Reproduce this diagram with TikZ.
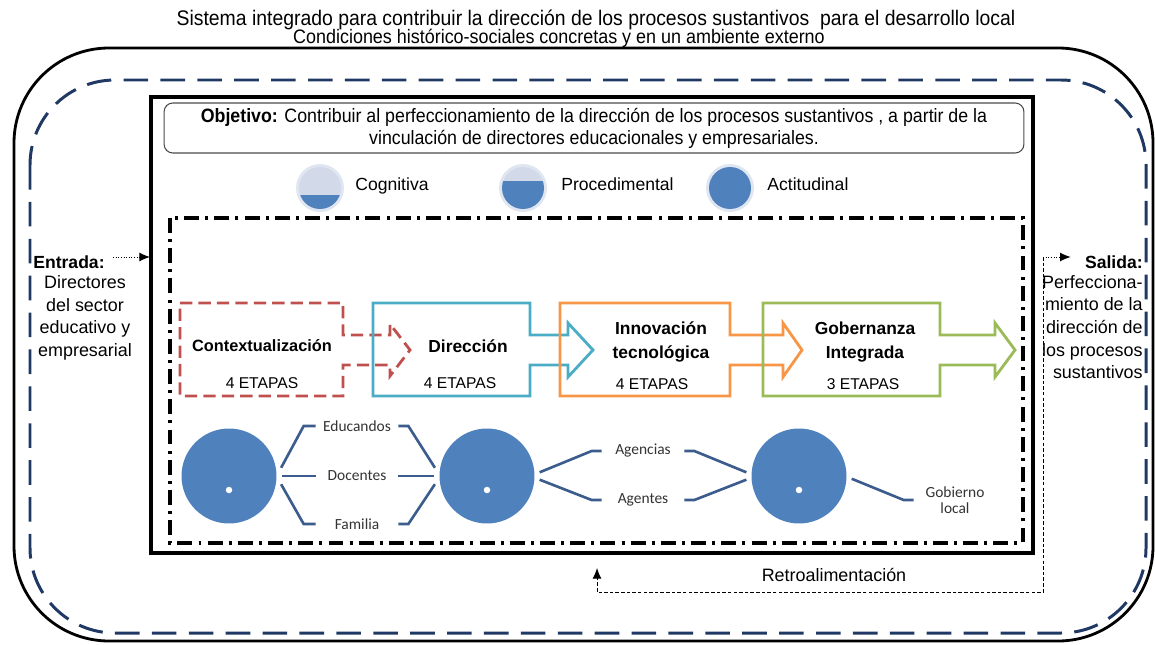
\documentclass[tikz,border=0pt]{standalone}
\usepackage{fontspec}
\setmainfont{Liberation Sans}
\newfontfamily\narrowfont[FakeStretch=0.92]{Liberation Sans}
\newfontfamily\calfont{Carlito}
\usetikzlibrary{arrows,arrows.meta,shapes,calc,positioning}

\definecolor{navy}{RGB}{31,56,100}
\definecolor{ballblue}{RGB}{79,129,189}
\definecolor{linkblue}{RGB}{59,92,140}
\definecolor{palefill}{RGB}{210,218,234}
\definecolor{halo}{RGB}{224,230,241}
\definecolor{ctxred}{RGB}{192,80,77}
\definecolor{dirblue}{RGB}{75,172,198}
\definecolor{innorange}{RGB}{247,150,70}
\definecolor{gobgreen}{RGB}{155,187,89}

\begin{document}
\begin{tikzpicture}[x=0.02cm, y=-0.02cm,
every node/.style={inner sep=0pt},
frame/.style={line width=1.6pt},
envdash/.style={draw=navy, line width=1.7pt, dash pattern=on 14pt off 7pt},
sysbox/.style={line width=2.2pt},
dashdot/.style={line width=2pt, dash pattern=on 8.5pt off 3.5pt on 1.7pt off 3.5pt},
stage/.style={line width=1.6pt, line join=miter},
stagename/.style={font=\bfseries\fontsize{9.9}{13.6}\selectfont, align=center},
etapas/.style={font=\fontsize{8.9}{10}\selectfont, anchor=base},
ball/.style={circle, fill=ballblue, minimum size=1.9cm, outer sep=3pt},
hole/.style={circle, fill=white, minimum size=0.13cm},
actor/.style={font=\calfont\fontsize{8.8}{8.8}\selectfont, align=center, minimum width=1.64cm, text=black!80},
link/.style={draw=linkblue, line width=1.5pt},
txt/.style={font=\fontsize{10.2}{12.9}\selectfont},
legend/.style={font=\fontsize{10}{12}\selectfont, anchor=base west},
flow/.style={-{Latex[length=6pt,width=5pt]}, line width=0.5pt, densely dotted},
fback/.style={-{Latex[length=6pt,width=5pt]}, line width=0.5pt, dash pattern=on 2pt off 1.2pt},
]
\useasboundingbox (0,0) rectangle (1155,645);

% titles
\node[font=\narrowfont\fontsize{12}{14}\selectfont, anchor=base] (title) at (596,25.5) {Sistema integrado para contribuir la dirección de los procesos sustantivos\ \ para el desarrollo local};
\node[font=\narrowfont\fontsize{11.1}{13}\selectfont, anchor=base] (subtitle) at (559,44) {Condiciones histórico-sociales concretas y en un ambiente externo};

% frames
\draw[frame, rounded corners=1.9cm] (14,48) rectangle (1153,641);
\draw[envdash, rounded corners=1.7cm] (30,80) rectangle (1146,633);
\draw[sysbox] (151,97) rectangle (1033,553);
\draw[dashdot] (170,218) rectangle (1023,543);

\node[draw=black!70, rounded corners=5pt, line width=0.6pt, minimum width=17.2cm, minimum height=1cm, align=center, font=\narrowfont\fontsize{11}{12.5}\selectfont] (obj) at (594,128) {\textbf{Objetivo:} Contribuir al perfeccionamiento de la dirección de los procesos sustantivos , a partir de la\\vinculación de directores educacionales y empresariales.};

% legend
\foreach \cx/\lev in {320/195, 523/181, 730/150} {
  \fill[halo] (\cx,188) circle [radius=0.48cm];
  \begin{scope}
    \clip (\cx,188) circle [radius=0.42cm];
    \fill[palefill] (\cx-25,160) rectangle (\cx+25,215);
    \fill[ballblue] (\cx-25,\lev) rectangle (\cx+25,215);
  \end{scope}
}
\node[legend] (cog) at (355,191) {Cognitiva};
\node[legend] (proc) at (561,191) {Procedimental};
\node[legend] (act) at (767,191) {Actitudinal};

% stages
\draw[stage, draw=ctxred, dash pattern=on 7pt off 3.5pt] (180,303) -- (343,303) -- (343,335) -- (390,335) -- (390,324) -- (410,350) -- (390,376) -- (390,365) -- (343,365) -- (343,396) -- (180,396) -- cycle;
\foreach \l/\r/\hb/\tip/\col in {373/530/568/593/dirblue, 560/730/783/802/innorange, 763/940/995/1015/gobgreen}
  \draw[stage, draw=\col] (\l,303) -- (\r,303) -- (\r,335) -- (\hb,335) -- (\hb,323) -- (\tip,350) -- (\hb,377) -- (\hb,365) -- (\r,365) -- (\r,396) -- (\l,396) -- cycle;

\node[stagename, font=\bfseries\fontsize{9.3}{11}\selectfont, anchor=base] (ctx) at (262,351) {Contextualización};
\node[etapas] (ctxn) at (262,388) {4 ETAPAS};
\node[stagename, anchor=base] (dir) at (468,352) {Dirección};
\node[etapas] (dirn) at (460,388) {4 ETAPAS};
\node[stagename] (inn) at (661,342) {Innovación\\tecnológica};
\node[etapas] (innn) at (652,389) {4 ETAPAS};
\node[stagename] (gob) at (865,342) {Gobernanza\\Integrada};
\node[etapas] (gobn) at (863,389) {3 ETAPAS};

% actors
\node[ball] (c1) at (229,476) {};
\node[ball] (c2) at (487,476) {};
\node[ball] (c3) at (799,476) {};
\foreach \c in {c1,c2,c3}
  \node[hole] at ($(\c)+(0,14)$) {};

\node[actor] (educ) at (357,426) {Educandos};
\node[actor] (docen) at (357,476) {Docentes};
\node[actor] (famil) at (357,524) {Familia};
\node[actor] (agenc) at (643,451) {Agencias};
\node[actor] (agent) at (643,500) {Agentes};
\node[actor] (gobier) at (955,500) {Gobierno\\local};

\draw[link] (c1.9) -- ($(educ.west)+(-12,0)$) -- (educ.west);
\draw[link] (educ.east) -- ++(10,0) -- (c2.171);
\draw[link] (c1.east) -- (docen.west);
\draw[link] (docen.east) -- (c2.west);
\draw[link] (c1.-9) -- ($(famil.west)+(-12,0)$) -- (famil.west);
\draw[link] (famil.east) -- ++(10,0) -- (c2.189);
\draw[link] (c2.4) -- ($(agenc.west)+(-10,0)$) -- (agenc.west);
\draw[link] (agenc.east) -- ++(10,0) -- (c3.176);
\draw[link] (c2.-4) -- ($(agent.west)+(-10,0)$) -- (agent.west);
\draw[link] (agent.east) -- ++(10,0) -- (c3.184);
\draw[link] (c3.-3) -- ($(gobier.west)+(-10,0)$) -- (gobier.west);

% input / output
\node[font=\bfseries\fontsize{10}{12}\selectfont, anchor=base west] (entrada) at (33,268) {Entrada:};
\node[txt, align=center] (entradatxt) at (85,318) {Directores\\del sector\\educativo y\\empresarial};
\coordinate (inL) at (150,257);
\draw[flow] (entrada.east |- inL) ++(8,0) -- (inL);

\node[font=\bfseries\fontsize{10}{12}\selectfont, anchor=base east] (salida) at (1143,268) {Salida:};
\node[txt, align=right, anchor=east] (salidatxt) at (1143,327) {Perfecciona-\\miento de la\\dirección de\\los procesos\\sustantivos};
\coordinate (outR) at (1043,257);
\draw[flow] (outR) -- ($(salida.west |- outR)+(-14,0)$);

% feedback
\coordinate (fbTip) at (597,568);
\draw[fback] (outR) |- ($(fbTip)+(0,24)$) -- (fbTip);
\node[txt, anchor=base] (retro) at (834,581) {Retroalimentación};
\end{tikzpicture}
\end{document}
